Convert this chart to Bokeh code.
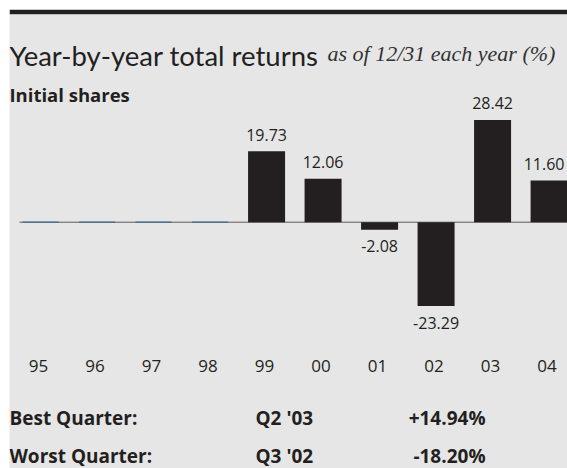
from bokeh.plotting import figure
from bokeh.models import Label, ColumnDataSource, Range1d
from bokeh.embed import file_html
from bokeh.resources import INLINE
from bokeh.core.properties import value

# ---------------- data ----------------
years = ["95", "96", "97", "98", "99", "00", "01", "02", "03", "04"]
returns = [0.0, 0.0, 0.0, 0.0, 19.73, 12.06, -2.08, -23.29, 28.42, 11.60]
value_labels = ["", "", "", "", "19.73", "12.06", "-2.08", "-23.29", "28.42", "11.60"]
title_main = "Year-by-year total returns"
title_note = "as of 12/31 each year (%)"
subtitle = "Initial shares"
quarter_names = ["Best Quarter:", "Worst Quarter:"]
quarter_periods = ["Q2 '03", "Q3 '02"]
quarter_values = ["+14.94%", "-18.20%"]

# ---------------- layout helpers ----------------
LEFT, TOP = 9, 9          # page offset of the panel
W, H = 567 - LEFT, 468 - TOP
TOP_BAR = 5
FRAME_TOP = TOP + TOP_BAR
PXU = 56.5                # pixels per category step
PYU = 3.6                 # pixels per percent
X0 = -0.55                # data x at left frame edge
Y_TOP = (221.7 - FRAME_TOP) / PYU


def dx(page_x):
    return X0 + (page_x - LEFT) / PXU


def dy(page_y):
    return Y_TOP - (page_y - FRAME_TOP) / PYU


INK = "#231f20"
BG = "#e6e6e6"
SANS = "Open Sans"

p = figure(width=W, height=H, output_backend="svg", toolbar_location=None,
           x_range=Range1d(X0, X0 + W / PXU), y_range=Range1d(dy(468), Y_TOP),
           x_axis_location=None, y_axis_location=None,
           min_border_left=0, min_border_right=0, min_border_bottom=0,
           min_border_top=TOP_BAR)
p.margin = (TOP, 0, 0, LEFT)
p.border_fill_color = INK
p.background_fill_color = BG
p.outline_line_color = None
p.xgrid.visible = False
p.ygrid.visible = False

idx = list(range(len(years)))
last = len(years) - 1

# zero line
p.segment(x0=[dx(19)], y0=[0], x1=[dx(567)], y1=[0], line_color="#5b5b5b", line_width=1)

# zero-value years (thin blue marks)
zi = [i for i in idx if returns[i] == 0]
p.segment(x0=[i - 0.32 for i in zi], x1=[i + 0.32 for i in zi],
          y0=[0] * len(zi), y1=[0] * len(zi), line_color="#4f7590", line_width=1.5)

# bars
bi = [i for i in idx if returns[i] != 0]
bars = ColumnDataSource(dict(x=bi, top=[returns[i] for i in bi]))
p.vbar(x="x", top="top", bottom=0, width=0.655, source=bars,
       fill_color=INK, line_color=None)

# value labels
pos = [i for i in bi if returns[i] > 0]
neg = [i for i in bi if returns[i] < 0]
p.text(x=pos, y=[returns[i] for i in pos], text=[value_labels[i] for i in pos],
       x_offset=[-5 if i == last else 0 for i in pos],
       y_offset=-16.5, text_align="center", text_baseline="alphabetic",
       text_font=value(SANS), text_font_size="16px", text_color=INK)
p.text(x=neg, y=[returns[i] for i in neg], text=[value_labels[i] for i in neg],
       y_offset=16.5, text_align="center", text_baseline="alphabetic",
       text_font=value(SANS), text_font_size="16px", text_color=INK)

# year labels
p.text(x=idx, y=[dy(365)] * len(idx), text=years, x_offset=-2,
       text_align="center", text_baseline="alphabetic",
       text_font=value(SANS), text_font_size="17px", text_color=INK)

# quarter table
qy = [dy(417), dy(455)]
for xs, txt, align in ((9, quarter_names, "left"), (255, quarter_periods, "left"),
                       (485, quarter_values, "right")):
    p.text(x=[dx(xs)] * 2, y=qy, text=txt, text_align=align,
           text_baseline="alphabetic", text_font=value(SANS), text_font_style="bold",
           text_font_size="19px", text_color=INK)

# titles
p.add_layout(Label(x=dx(9), y=dy(54.5), text=title_main, text_font="Lato",
                   text_font_size="27.5px", text_baseline="alphabetic", text_color=INK))
p.add_layout(Label(x=dx(327), y=dy(53), text=title_note, text_font="Liberation Serif",
                   text_font_style="italic", text_font_size="22px",
                   text_baseline="alphabetic", text_color="#333333"))
p.add_layout(Label(x=dx(9), y=dy(93.7), text=subtitle, text_font=SANS,
                   text_font_style="bold", text_font_size="18.5px",
                   text_baseline="alphabetic", text_color=INK))

open("out.html", "w").write(file_html(p, INLINE))
